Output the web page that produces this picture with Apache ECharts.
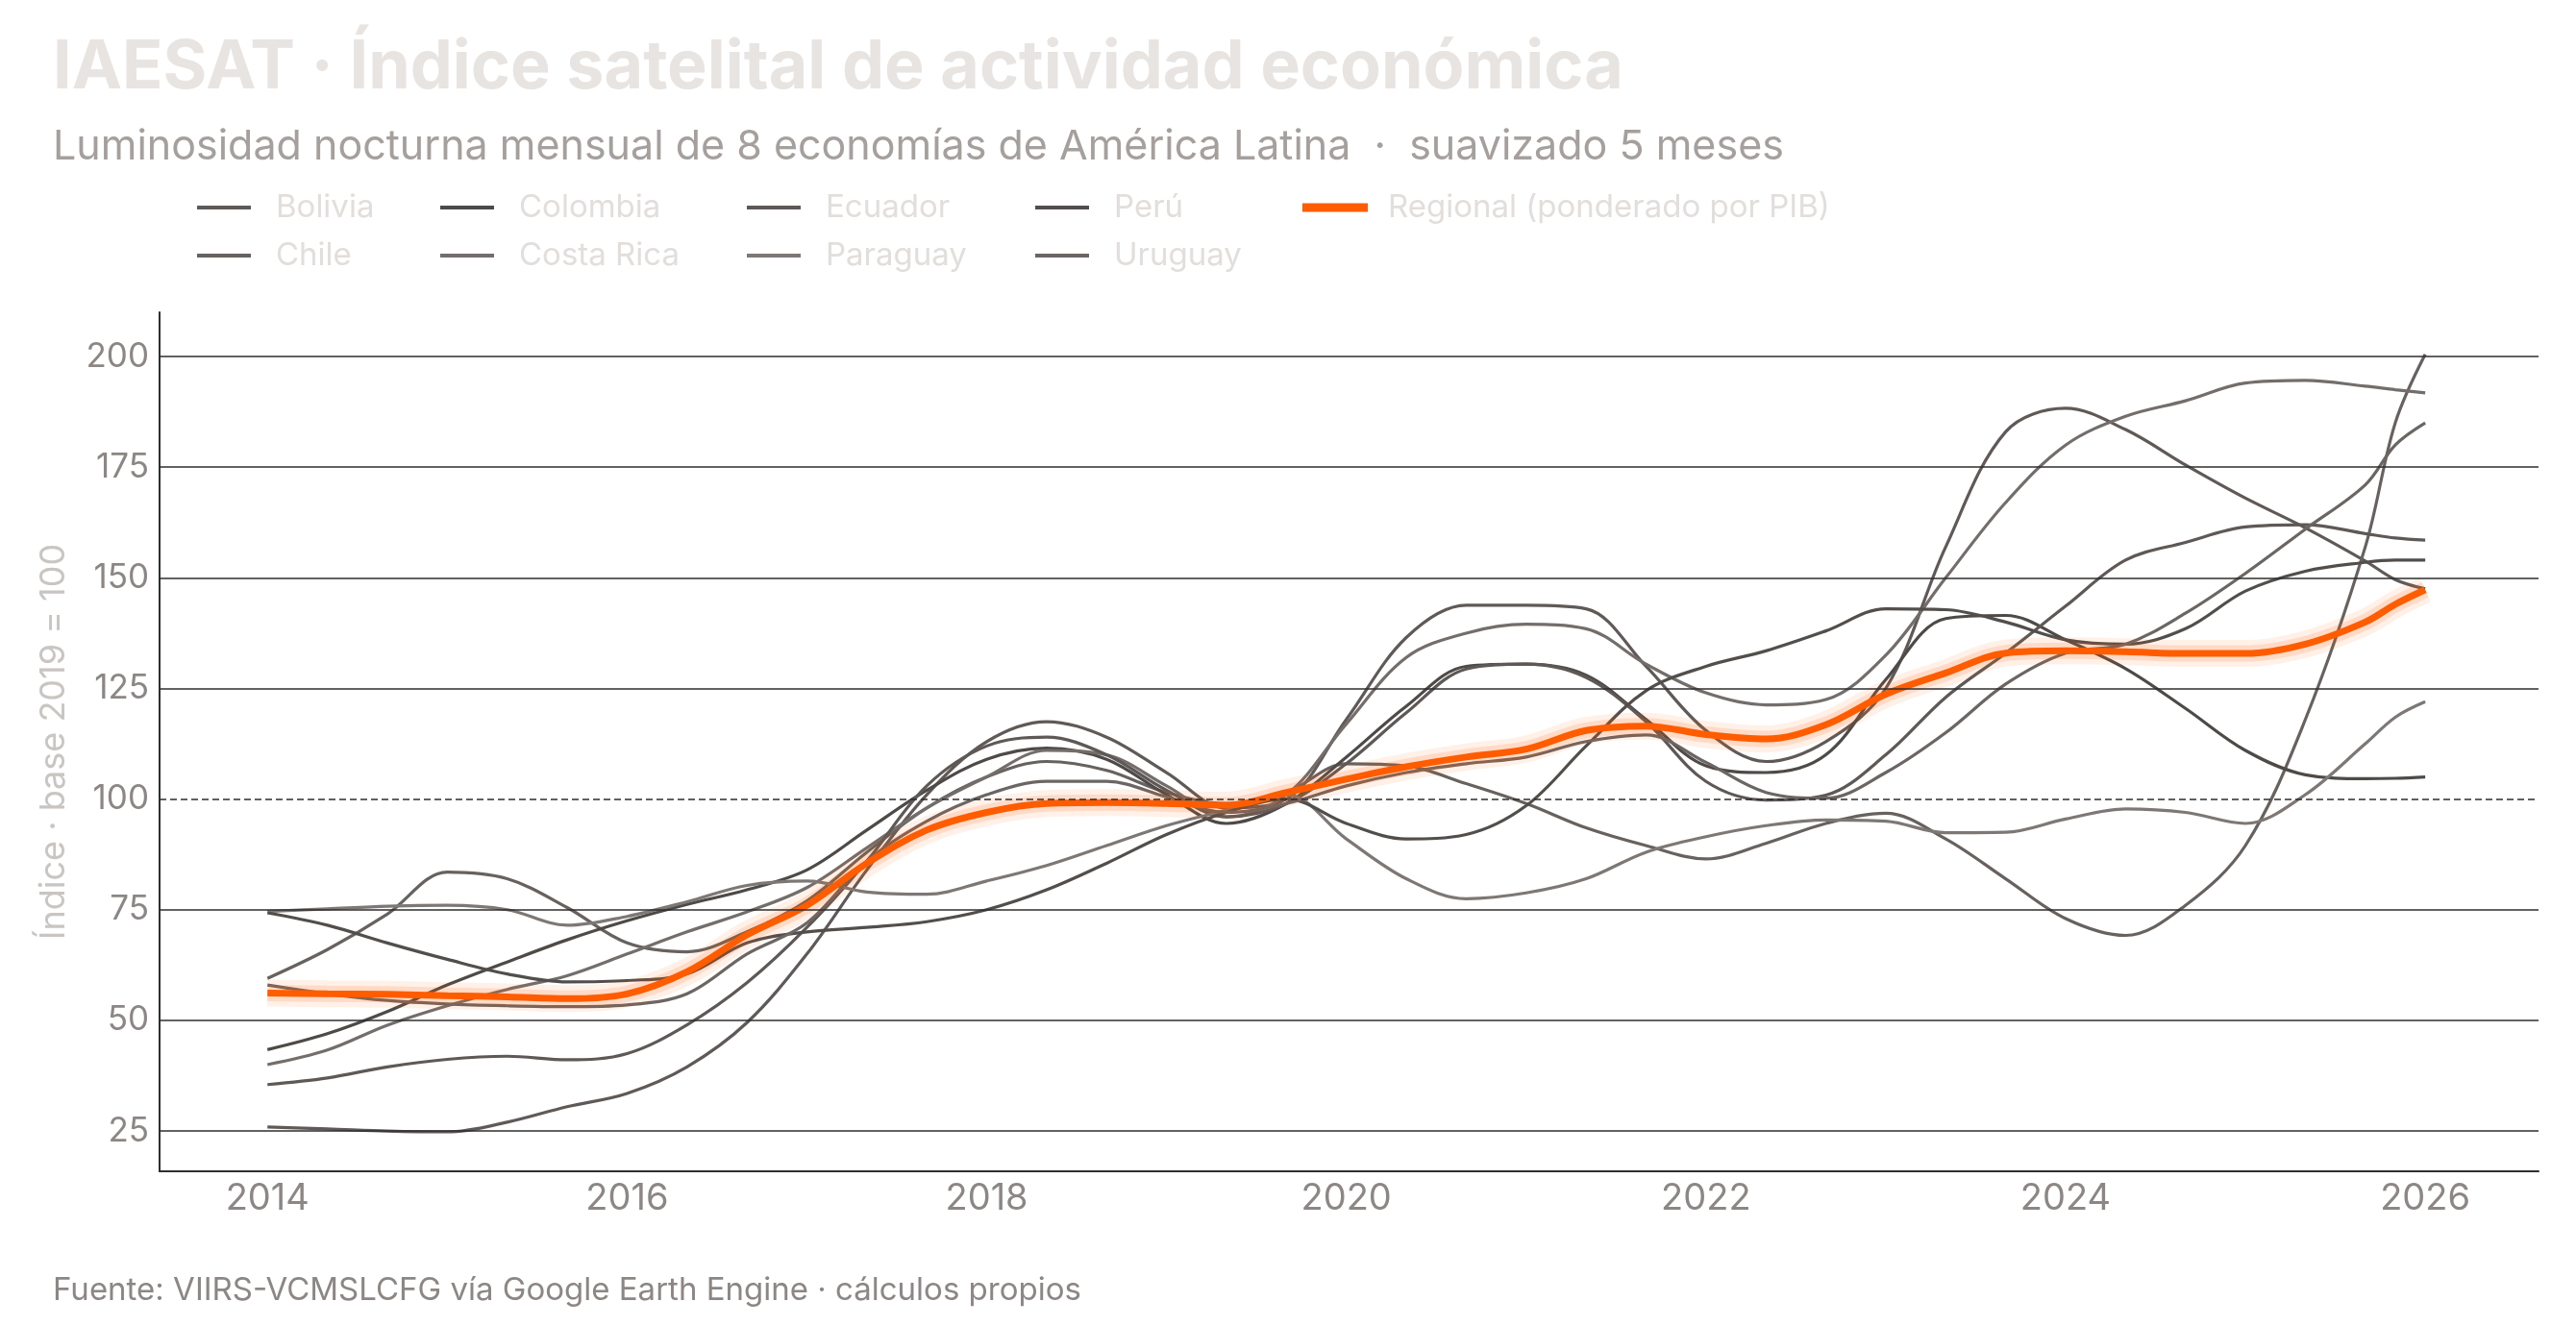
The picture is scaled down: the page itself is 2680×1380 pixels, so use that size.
<!DOCTYPE html>
<html>
<head>
<meta charset="utf-8">
<script src="https://cdn.jsdelivr.net/npm/echarts@6/dist/echarts.min.js"></script>
<style>
html,body{margin:0;padding:0;background:#ffffff;}
#c{width:2680px;height:1380px;}
</style>
</head>
<body>
<div id="c"></div>
<script>
// ---- data (sampled every 4 months, plus Nov 2025) ----
const dates = ['2014-01','2014-05','2014-09','2015-01','2015-05','2015-09','2016-01','2016-05','2016-09',
  '2017-01','2017-05','2017-09','2018-01','2018-05','2018-09','2019-01','2019-05','2019-09',
  '2020-01','2020-05','2020-09','2021-01','2021-05','2021-09','2022-01','2022-05','2022-09',
  '2023-01','2023-05','2023-09','2024-01','2024-05','2024-09','2025-01','2025-05','2025-09','2025-11','2026-01'];

const yTicks = [25, 50, 75, 100, 125, 150, 175, 200];
const xTicks = [2014, 2016, 2018, 2020, 2022, 2024, 2026];

const bolivia   = [25.9,25.5,25,24.8,27,30.5,33.5,39.5,49.5,65,84,101,113,117.5,114,106,98,100,118,136.5,143.8,143.8,143,130,115.5,108.5,113,125,157,183,188.3,183.5,175.5,168,161.3,153.8,149.6,147.5];
const chile     = [59.5,66,74,83.5,82,75.5,67.5,65.5,70,77,88,98,105,108.5,106.5,101.5,99,101.5,108,107.5,103.5,99,93.5,89.5,86.5,90,94.5,96.8,91,82,73,69.2,76,89.5,118,157,185,200.5];
const colombia  = [43.4,47,52,58,63.2,68.2,72.5,76.2,79.5,84,93,102,109,111.5,109,101,94.5,99,109.5,121,130,130.5,128,118,107.5,106,110,127,140.8,141.5,136,129.5,120.5,111,105.5,104.6,104.7,105];
const costaRica = [40,43.3,48.9,53.3,57,60.1,65,70,74.5,80,89,98,105,111,110,103,96,101,117,132,137.5,139.5,138.5,130.5,124,121.3,122.5,132.5,150,167,180,186.5,190,194,194.6,193.3,192.5,191.8];
const ecuador   = [35.5,37,39.5,41.2,41.9,41.1,42.5,49,58.5,71,86,103,112,114,110,102,96,99,108,119.5,129.4,130.5,127.5,117.5,104,99.8,100.9,110,123,133,143.6,154,158,161.5,162,160,159,158.5];
const paraguay  = [74.6,75.2,75.8,76,75,71.5,73.5,76.8,80.5,81.5,79,78.5,81.5,85,89.5,94,97.5,101,91,82,77.5,78.8,82,88,91.5,94,95.3,95,92.4,92.5,95.5,97.8,97,94.5,101,112.5,118.5,122];
const peru      = [74.3,71.5,67.5,63.8,60.5,58.7,59,60.5,67.5,70,71,72.3,75,79.5,85.5,92,97,100,94.5,91,92,98.5,112,124.5,130,133.5,138,143,142.8,140,136,135,138.5,147,151.5,153.5,154,154];
const uruguay   = [58,56,54.5,53.7,53.3,53.1,53.5,56,65,72,86,95,101,104,104,100.5,97,99,103,106,108,109.5,113,114.5,108.3,101.5,100.2,106,115,126,133,135,142,151,161,171,180,185];
const regional  = [56.2,56,55.9,55.6,55.3,54.9,56,61,69.3,76,85.5,93,97,99,99.2,99,98.6,101.5,104.5,107.3,109.5,111.3,115.5,116.5,114.6,113.6,116.8,123.7,128.5,133,133.5,133.3,132.9,132.9,135,140,144,147.3];

const countryNames = ['Bolivia','Chile','Colombia','Costa Rica','Ecuador','Paraguay','Perú','Uruguay'];
const countryData  = [bolivia, chile, colombia, costaRica, ecuador, paraguay, peru, uruguay];
const regionalName = 'Regional (ponderado por PIB)';

// ---- styling ----
const countryColors = ['#5f5a58','#67625f','#4e4a48','#736e6b','#5e5957','#7d7875','#524e4c','#6b6663'];
const ORANGE = '#ff5c00';
const FONT = 'Inter, "Noto Sans", sans-serif';

const toYear = s => { const p = s.split('-').map(Number); return p[0] + (p[1] - 1) / 12; };
const xs = dates.map(toYear);
const pair = arr => arr.map((v, i) => [xs[i], v]);

const series = [];
// gridlines via markLine on an empty helper series
series.push({
  type: 'line', name: '_grid', data: [], z: 0, silent: true,
  markLine: {
    silent: true, symbol: ['none', 'none'], label: { show: false }, animation: false,
    data: yTicks.map(v => ({
      yAxis: v,
      lineStyle: { color: '#2e2e2e', width: 1.6, type: v === 100 ? [7, 4] : 'solid' }
    }))
  }
});
countryNames.forEach((n, i) => {
  series.push({
    type: 'line', name: n, data: pair(countryData[i]), smooth: 0.35,
    showSymbol: false, symbol: 'none', z: 2,
    lineStyle: { color: countryColors[i], width: 3.2 },
    itemStyle: { color: countryColors[i] }
  });
});
series.push({ type: 'line', name: '_glow1', data: pair(regional), smooth: 0.35, showSymbol: false, symbol: 'none', z: 3,
  lineStyle: { color: 'rgba(255,92,0,0.09)', width: 28 } });
series.push({ type: 'line', name: '_glow2', data: pair(regional), smooth: 0.35, showSymbol: false, symbol: 'none', z: 3,
  lineStyle: { color: 'rgba(255,92,0,0.14)', width: 17 } });
series.push({ type: 'line', name: regionalName, data: pair(regional), smooth: 0.35, showSymbol: false, symbol: 'none', z: 4,
  lineStyle: { color: ORANGE, width: 7 }, itemStyle: { color: ORANGE } });

const legendCols = [['Bolivia','Chile'], ['Colombia','Costa Rica'], ['Ecuador','Paraguay'], ['Perú','Uruguay'], [regionalName]];
const legendLefts = [200, 453, 772, 1072, 1350];
const legends = legendCols.map((names, i) => ({
  data: names, orient: 'vertical', left: legendLefts[i], top: 192, itemGap: 12,
  icon: 'rect', itemWidth: i === 4 ? 68 : 56, itemHeight: i === 4 ? 9 : 4,
  selectedMode: false,
  textStyle: { color: '#e2dedc', fontSize: 33, fontFamily: FONT, lineHeight: 38, padding: [0, 0, 0, i === 4 ? 16 : 21] }
}));

const chart = echarts.init(document.getElementById('c'), null, { renderer: 'canvas' });
chart.setOption({
  animation: false,
  backgroundColor: '#ffffff',
  grid: { left: 166, right: 39, top: 325, bottom: 161 },
  legend: legends,
  graphic: [
    { type: 'text', x: 55, y: 71, style: { text: 'IAESAT · Índice satelital de actividad económica', fill: '#e8e4e2',
      font: 'bold 70px ' + FONT, verticalAlign: 'middle' } },
    { type: 'text', x: 55, y: 153, style: { text: 'Luminosidad nocturna mensual de 8 economías de América Latina  ·  suavizado 5 meses',
      fill: '#a5a09d', font: '43px ' + FONT, verticalAlign: 'middle' } },
    { type: 'text', x: 55, y: 1343, style: { text: 'Fuente: VIIRS-VCMSLCFG vía Google Earth Engine · cálculos propios',
      fill: '#8c8785', font: '33px ' + FONT, verticalAlign: 'middle' } }
  ],
  xAxis: {
    type: 'value', min: 2013.4, max: 2026.63,
    axisLine: { show: true, onZero: false, lineStyle: { color: '#2e2e2e', width: 2 } },
    axisTick: { show: false }, splitLine: { show: false },
    axisLabel: { customValues: xTicks, formatter: v => String(Math.round(v)), color: '#8c8785', fontSize: 38, fontFamily: FONT, margin: 10 }
  },
  yAxis: {
    type: 'value', min: 15.9, max: 210,
    name: 'Índice · base 2019 = 100', nameLocation: 'middle', nameGap: 92,
    nameTextStyle: { color: '#c9c5c3', fontSize: 36, fontFamily: FONT },
    axisLine: { show: true, lineStyle: { color: '#2e2e2e', width: 2 } },
    axisTick: { show: false }, splitLine: { show: false },
    axisLabel: { customValues: yTicks, color: '#8c8785', fontSize: 35, fontFamily: FONT, margin: 11 }
  },
  series: series
});
</script>
</body>
</html>
